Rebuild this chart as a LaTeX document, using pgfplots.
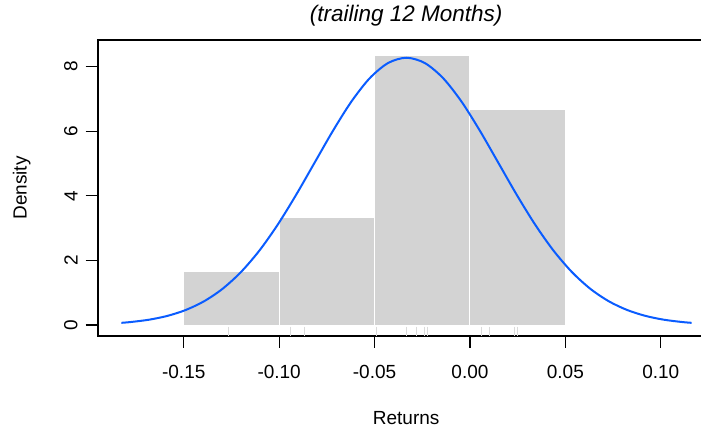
\documentclass[border=0pt]{standalone}
\usepackage{pgfplots}
\pgfplotsset{compat=1.18}
\usepackage{fontspec}
\setmainfont{Liberation Sans}
\definecolor{barfill}{HTML}{D3D3D3}
\definecolor{curveblue}{HTML}{0A5CFF}
\definecolor{rugc}{HTML}{DADADA}
\begin{document}
\begin{tikzpicture}
\useasboundingbox (-97.7pt,-91pt) rectangle (603.3pt,336pt);
\clip (-97.7pt,-91pt) rectangle (603.3pt,336pt);
\begin{axis}[
  at={(0pt,0pt)}, anchor=south west,
  scale only axis, width=616.9pt, height=296.1pt,
  xmin=-0.1951, xmax=0.1282, ymin=-0.34, ymax=8.83,
  axis line style={line width=2.2pt, black},
  xtick={-0.15,-0.10,-0.05,0,0.05,0.10},
  xticklabels={-0.15,-0.10,-0.05,0.00,0.05,0.10},
  ytick={0,2,4,6,8}, yticklabels={0,2,4,6,8},
  xtick pos=bottom, ytick pos=left,
  tick align=outside, major tick length=12pt,
  every tick/.style={black, line width=1.2pt},
  tick label style={font=\fontsize{19}{22}\selectfont},
  xticklabel shift=14pt,
  yticklabel style={rotate=90, anchor=south},
  yticklabel shift=4.5pt,
  xlabel={Returns}, ylabel={Density},
  label style={font=\fontsize{19}{22}\selectfont},
  xlabel style={at={([yshift=-82pt]axis description cs:0.5,0)}, anchor=center},
  ylabel style={at={([xshift=-76pt]axis description cs:0,0.5)}, anchor=center},
  title={(trailing 12 Months)},
  title style={font=\fontsize{22.5}{26}\selectfont\itshape, at={([yshift=18pt]axis description cs:0.5,1)}, anchor=center},
]
\addplot[ybar interval, fill=barfill, draw=white, line width=1pt] coordinates {
  (-0.15,1.6667) (-0.10,3.3333) (-0.05,8.3333) (0,6.6667) (0.05,6.6667)};
\addplot[only marks, mark=|, mark size=4.5pt, color=rugc, mark options={line width=1pt}] coordinates {
  (-0.1268,-0.186) (-0.0943,-0.186) (-0.0865,-0.186) (-0.0491,-0.186)
  (-0.0332,-0.186) (-0.0281,-0.186) (-0.0237,-0.186) (-0.0223,-0.186)
  (0.0060,-0.186) (0.0100,-0.186) (0.0231,-0.186) (0.0248,-0.186)};
\addplot[curveblue, line width=2pt, smooth, mark=none] coordinates {
  (-0.18272,0.068) (-0.1779,0.092) (-0.16826,0.164) (-0.15862,0.282)
  (-0.14898,0.465) (-0.13934,0.736) (-0.1297,1.120) (-0.12006,1.638)
  (-0.11042,2.301) (-0.10078,3.106) (-0.09114,4.029) (-0.0815,5.020)
  (-0.07186,6.010) (-0.06222,6.914) (-0.05258,7.641) (-0.04294,8.113)
  (-0.0333,8.277) (-0.02366,8.113) (-0.01402,7.641) (-0.00438,6.914)
  (0.00526,6.010) (0.0149,5.020) (0.02454,4.029) (0.03418,3.106)
  (0.04382,2.301) (0.05346,1.638) (0.0631,1.120) (0.07274,0.736)
  (0.08238,0.465) (0.09202,0.282) (0.10166,0.164) (0.1113,0.092)
  (0.11612,0.068)};
\end{axis}
\end{tikzpicture}
\end{document}
